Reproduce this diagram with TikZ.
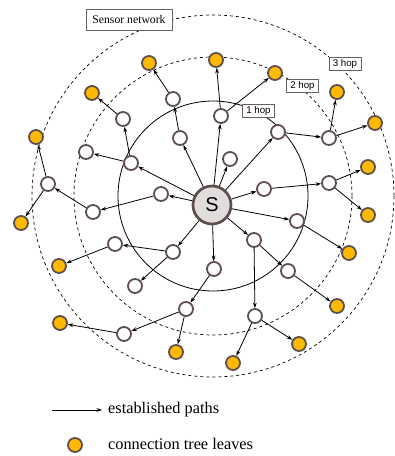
\documentclass[tikz,border=0pt]{standalone}
\usepackage{fontspec}
\setmainfont{Liberation Serif}
\newfontfamily\arialfont{Liberation Sans}
\usepackage{tikz}
\usepackage{xcolor}
\usetikzlibrary{arrows.meta}

\definecolor{rim}{RGB}{95,78,78}
\definecolor{leafcol}{RGB}{255,186,0}
\definecolor{srcfill}{RGB}{226,221,221}
\definecolor{boxrim}{RGB}{105,95,95}

\tikzset{
	sensor/.style={circle, draw=rim, line width=1.8pt, fill=white, minimum size=14pt, inner sep=0pt},
	leafnode/.style={sensor, fill=leafcol},
	source/.style={circle, draw=rim, line width=2.7pt, fill=srcfill, minimum size=38pt, inner sep=0pt, font=\arialfont\fontsize{20}{20}\selectfont},
	hoplabel/.style={draw=boxrim, fill=white, line width=0.6pt, inner xsep=4pt, inner ysep=1.5pt, minimum height=13pt, font=\arialfont\fontsize{9.7}{10}\selectfont},
	link/.style={-{Stealth[length=5.5pt,width=3.8pt]}, line width=0.8pt},
	ring/.style={line width=0.7pt, dash pattern=on 3pt off 3pt}
}

\begin{document}
\begin{tikzpicture}[x=1pt, y=-1pt]
				\useasboundingbox (0,0) rectangle (395,456);
				\draw[ring] (213,196) circle (181);
				\draw[ring] (213,196) circle (139);
				\draw[line width=0.8pt] (213,196) circle (95);

				\node[source] at (212,205) (S) {S};

				\node[sensor] at (221,116) (A) {};
				\node[sensor] at (230,159) (B) {};
				\node[sensor] at (278,132) (C) {};
				\node[sensor] at (264,189) (D) {};
				\node[sensor] at (297,221) (E) {};
				\node[sensor] at (254,240) (F) {};
				\node[sensor] at (214,269) (G) {};
				\node[sensor] at (173,252) (H) {};
				\node[sensor] at (161,194) (I) {};
				\node[sensor] at (131,163) (J) {};
				\node[sensor] at (180,138) (K) {};
				\node[sensor] at (329,138) (M) {};
				\node[sensor] at (329,183) (N) {};
				\node[sensor] at (288,271) (O) {};
				\node[sensor] at (255,316) (P) {};
				\node[sensor] at (186,309) (Q) {};
				\node[sensor] at (124,334) (R) {};
				\node[sensor] at (115,244) (T) {};
				\node[sensor] at (135,286) (U) {};
				\node[sensor] at (93,212) (V) {};
				\node[sensor] at (48,184) (W) {};
				\node[sensor] at (86,152) (X) {};
				\node[sensor] at (123,119) (Y) {};
				\node[sensor] at (173,99) (Z) {};

				\node[leafnode] at (216,60) (L1) {};
				\node[leafnode] at (275,73) (L2) {};
				\node[leafnode] at (337,92) (L3) {};
				\node[leafnode] at (375,123) (L4) {};
				\node[leafnode] at (368,167) (L5) {};
				\node[leafnode] at (368,215) (L6) {};
				\node[leafnode] at (349,253) (L7) {};
				\node[leafnode] at (337,306) (L8) {};
				\node[leafnode] at (299,344) (L9) {};
				\node[leafnode] at (233,363) (L10) {};
				\node[leafnode] at (176,352) (L11) {};
				\node[leafnode] at (60,323) (L12) {};
				\node[leafnode] at (59,266) (L13) {};
				\node[leafnode] at (21,223) (L14) {};
				\node[leafnode] at (36,137) (L15) {};
				\node[leafnode] at (92,93) (L16) {};
				\node[leafnode] at (149,63) (L17) {};

				\foreach \t in {A,B,C,D,E,F,G,H,I,J,K}
					\draw[link] (S) -- (\t);

				\draw[link] (A) -- (L1);
				\draw[link] (A) -- (L2);
				\draw[link] (C) -- (M);
				\draw[link] (D) -- (N);
				\draw[link] (M) -- (L3);
				\draw[link] (M) -- (L4);
				\draw[link] (N) -- (L5);
				\draw[link] (N) -- (L6);
				\draw[link] (E) -- (L7);
				\draw[link] (F) -- (O);
				\draw[link] (F) -- (P);
				\draw[link] (O) -- (L8);
				\draw[link] (P) -- (L9);
				\draw[link] (P) -- (L10);
				\draw[link] (G) -- (Q);
				\draw[link] (Q) -- (R);
				\draw[link] (Q) -- (L11);
				\draw[link] (R) -- (L12);
				\draw[link] (H) -- (T);
				\draw[link] (H) -- (U);
				\draw[link] (T) -- (L13);
				\draw[link] (I) -- (V);
				\draw[link] (V) -- (W);
				\draw[link] (W) -- (L14);
				\draw[link] (W) -- (L15);
				\draw[link] (J) -- (X);
				\draw[link] (J) -- (Y);
				\draw[link] (Y) -- (L16);
				\draw[link] (K) -- (Z);
				\draw[link] (Z) -- (L17);

				\node[draw=boxrim, fill=white, line width=0.6pt, minimum width=86pt, minimum height=21pt, inner sep=0pt, font=\fontsize{11.7}{12}\selectfont] at (129,19.5) (NET) {Sensor network};
				\node[hoplabel] at (258.5,111) (H1) {1 hop};
				\node[hoplabel] at (302.5,86) (H2) {2 hop};
				\node[hoplabel] at (345,63.5) (H3) {3 hop};

				\coordinate (P0) at (52,410);
				\coordinate (P1) at (102,410);
				\draw[link] (P0) -- (P1);
				\node[anchor=west, inner sep=0pt, font=\fontsize{16.3}{18}\selectfont] at (108,410) (EP) {established paths};
				\node[leafnode] at (75,445) (LL) {};
				\node[anchor=west, inner sep=0pt, font=\fontsize{16.3}{18}\selectfont] at (108,444) (CT) {connection tree leaves};
			\end{tikzpicture}
\end{document}
